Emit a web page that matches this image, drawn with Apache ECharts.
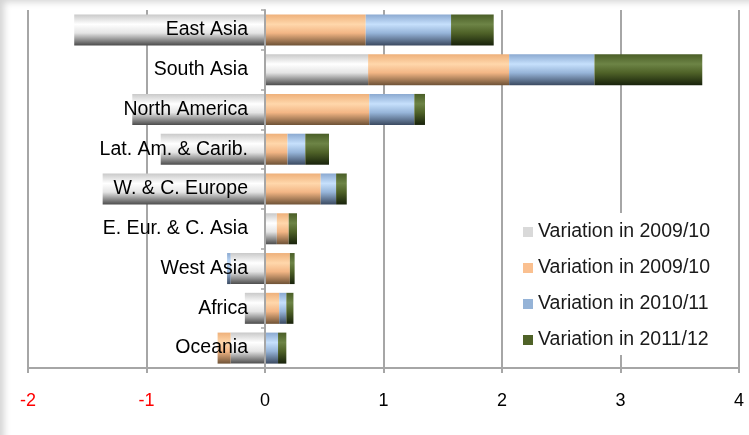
<!DOCTYPE html>
<html lang="en">
<head>
<meta charset="UTF-8">
<title>Variation by region</title>
<script src="https://cdn.jsdelivr.net/npm/echarts@6/dist/echarts.min.js"></script>
<style>
  html, body { margin: 0; padding: 0; background: #fff; }
  #chart {
    width: 749px;
    height: 435px;
    background: #fff;
    box-shadow: inset 8px 6px 7px -4px #d4d4d4;
  }
</style>
</head>
<body>
<div id="chart"></div>
<script>
// regions, top to bottom
var regions = ['East Asia', 'South Asia', 'North America', 'Lat. Am. & Carib.', 'W. & C. Europe',
               'E. Eur. & C. Asia', 'West Asia', 'Africa', 'Oceania'];

var seriesKeys = ['v0910a', 'v0910b', 'v1011', 'v1112'];
var legendLabels = ['Variation in 2009/10', 'Variation in 2009/10', 'Variation in 2010/11', 'Variation in 2011/12'];

var var0910a = [-1.61, 0.87, -1.12, -0.88, -1.37, 0.10, -0.29, -0.17, -0.29];
var var0910b = [0.85, 1.19, 0.88, 0.19, 0.47, 0.10, 0.21, 0.12, -0.11];
var var1011  = [0.72, 0.72, 0.38, 0.15, 0.13, 0, -0.03, 0.06, 0.11];
var var1112  = [0.36, 0.91, 0.09, 0.20, 0.09, 0.07, 0.04, 0.06, 0.07];

var xTicks = [-2, -1, 0, 1, 2, 3, 4];

// flat colours for the legend, shaded gradients for the bars
var flatColors = ['#d9d9d9', '#fac090', '#95b3d7', '#4f6228'];
var shades = [
  ['#c9c9c9', '#ffffff', '#e4e4e4', '#4c4c4c'],
  ['#eeb07a', '#ffd7ab', '#f3b685', '#6e5236'],
  ['#8ba9d0', '#c6e0fc', '#97b5d9', '#3b4a61'],
  ['#4a5e27', '#6d8446', '#4f6228', '#18220b']
];

function shade(c) {
  return new echarts.graphic.LinearGradient(0, 0, 0, 1, [
    { offset: 0, color: c[0] },
    { offset: 0.32, color: c[1] },
    { offset: 0.6, color: c[2] },
    { offset: 1, color: c[3] }
  ]);
}

var values = [var0910a, var0910b, var1011, var1112];
var series = values.map(function (v, i) {
  return {
    name: seriesKeys[i],
    type: 'bar',
    stack: 'total',
    barCategoryGap: '22%',
    itemStyle: { color: shade(shades[i]) },
    data: v
  };
});

var gridLeft = 28, gridRight = 10;
var plotW = 749 - gridLeft - gridRight;
// shift the category axis from the left edge to x = 0
var zeroShift = plotW * (0 - xTicks[0]) / (xTicks[xTicks.length - 1] - xTicks[0]);

var chart = echarts.init(document.getElementById('chart'));
chart.setOption({
  animation: false,
  textStyle: { fontFamily: 'Liberation Sans, Arial, sans-serif' },
  grid: { left: gridLeft, right: gridRight, top: 10, bottom: 67, containLabel: false, outerBoundsMode: 'none' },
  xAxis: {
    type: 'value',
    min: xTicks[0],
    max: xTicks[xTicks.length - 1],
    interval: 1,
    axisLine: { show: true, lineStyle: { color: '#a6a6a6', width: 2 } },
    axisTick: { show: true, length: 5, lineStyle: { color: '#a6a6a6', width: 2 } },
    splitLine: { show: true, lineStyle: { color: '#a6a6a6', width: 2 } },
    axisLabel: {
      fontSize: 18,
      margin: 24,
      color: function (val) { return Number(val) < 0 ? '#ff0000' : '#000'; }
    }
  },
  yAxis: {
    type: 'category',
    data: regions,
    inverse: true,
    z: 5,
    offset: -zeroShift,
    axisLine: { show: true, onZero: false, lineStyle: { color: '#a6a6a6', width: 2 } },
    axisTick: { show: true, length: 4, lineStyle: { color: '#a6a6a6', width: 1.5 } },
    axisLabel: { fontSize: 19.5, margin: 17, color: '#000' }
  },
  legend: {
    orient: 'vertical',
    left: 518,
    top: 213,
    padding: [9, 10, 5, 5],
    backgroundColor: '#fff',
    itemWidth: 10,
    itemHeight: 10,
    itemGap: 16,
    itemTextGap: 4,
    icon: 'rect',
    data: seriesKeys.map(function (k, i) {
      return { name: k, itemStyle: { color: flatColors[i] } };
    }),
    formatter: function (name) { return legendLabels[seriesKeys.indexOf(name)]; },
    textStyle: { fontSize: 19.5, lineHeight: 20, color: '#1a1a1a' }
  },
  series: series
});
</script>
</body>
</html>
